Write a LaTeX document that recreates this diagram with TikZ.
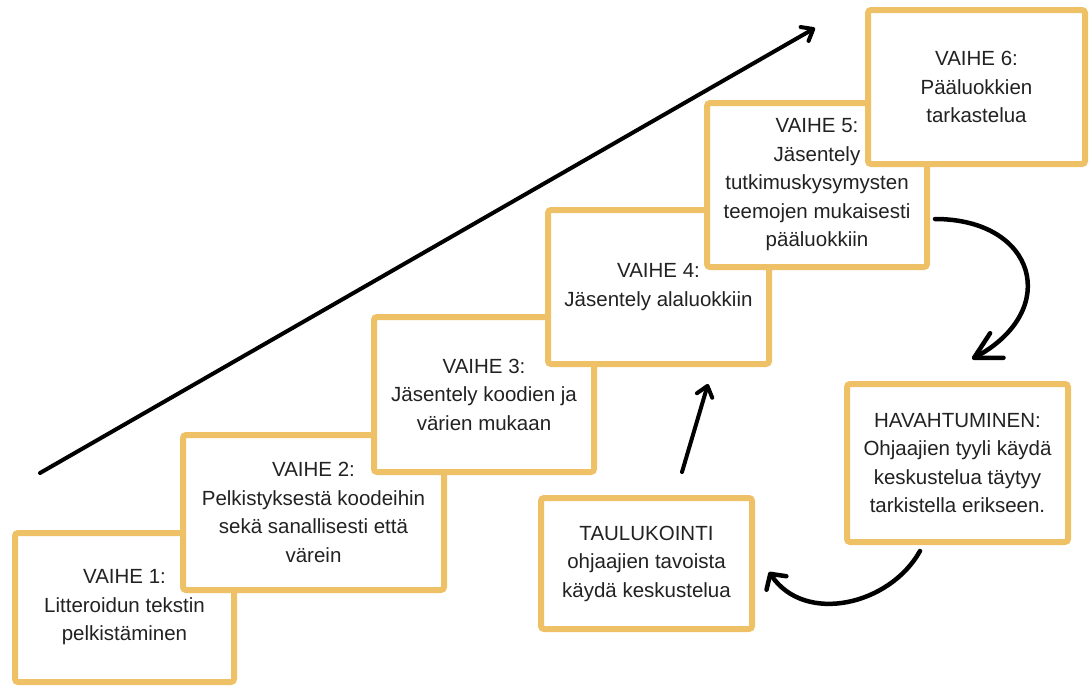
\documentclass[tikz,border=0pt]{standalone}
\usepackage{fontspec}
\setmainfont{Liberation Sans}
\usepackage{tikz}
\usetikzlibrary{arrows.meta}
\definecolor{kulta}{RGB}{238,193,103}
\definecolor{teksti}{RGB}{34,34,34}

\begin{document}
\begin{tikzpicture}[x=1pt,y=-1pt,
    vaihe/.style={draw=kulta, line width=6pt, fill=white, rounded corners=3pt,
        align=center, text=teksti, inner sep=0pt,
        font=\fontsize{20.5}{28.5}\selectfont},
    nuoli/.style={line width=4pt, line cap=round},
    kärki/.style={-{Straight Barb[length=10pt,width=16pt,round]}}]
        \useasboundingbox (0,0) rectangle (1090,686);
        %PORTAAT
        \node[vaihe, minimum width=219pt, minimum height=149pt] (v1) at (124.5,607.5) {VAIHE 1:\\Litteroidun tekstin\\pelkistäminen};
        \node[vaihe, minimum width=261pt, minimum height=155pt] (v2) at (313.5,512.5) {VAIHE 2:\\Pelkistyksestä koodeihin\\sekä sanallisesti että\\värein};
        \node[vaihe, minimum width=220pt, minimum height=155pt] (v3) at (484,394.5) {VAIHE 3:\\Jäsentely koodien ja\\värien mukaan};
        \node[vaihe, minimum width=221pt, minimum height=154pt] (v4) at (658.5,287) {VAIHE 4:\\Jäsentely alaluokkiin};
        \node[vaihe, minimum width=220pt, minimum height=164pt] (v5) at (817,185) {VAIHE 5:\\Jäsentely\\tutkimuskysymysten\\teemojen mukaisesti\\pääluokkiin};
        \node[vaihe, minimum width=217pt, minimum height=154pt] (v6) at (976.5,87) {VAIHE 6:\\Pääluokkien\\tarkastelua};
        %SIVUPOLKU
        \node[vaihe, minimum width=211pt, minimum height=131pt] (taul) at (646.5,563.5) {TAULUKOINTI\\ohjaajien tavoista\\käydä keskustelua};
        \node[vaihe, minimum width=221pt, minimum height=158pt] (hav) at (957.5,463) {HAVAHTUMINEN:\\Ohjaajien tyyli käydä\\keskustelua täytyy\\tarkistella erikseen.};
        %NUOLET
        \coordinate (alku) at (40,473);
        \coordinate (loppu) at (815,28);
        \draw[nuoli, kärki] (alku) -- (loppu);
        \draw[nuoli, line width=4.5pt, -{Straight Barb[length=26pt,width=28pt,round]}] ([xshift=5pt,yshift=-34pt]v5.east) .. controls (1036,219) and (1062,310) .. ([xshift=14.5pt,yshift=22pt]hav.north);
        \draw[nuoli, line width=4.5pt, -{Straight Barb[length=11pt,width=24pt,round]}] ([xshift=-37.5pt,yshift=-6pt]hav.south) .. controls (890,605) and (805,625) .. ([xshift=14pt,yshift=-8.5pt]taul.east);
        \draw[nuoli, kärki] ([xshift=35.5pt,yshift=23pt]taul.north) -- ([xshift=49.5pt,yshift=-17pt]v4.south);
    \end{tikzpicture}
\end{document}
